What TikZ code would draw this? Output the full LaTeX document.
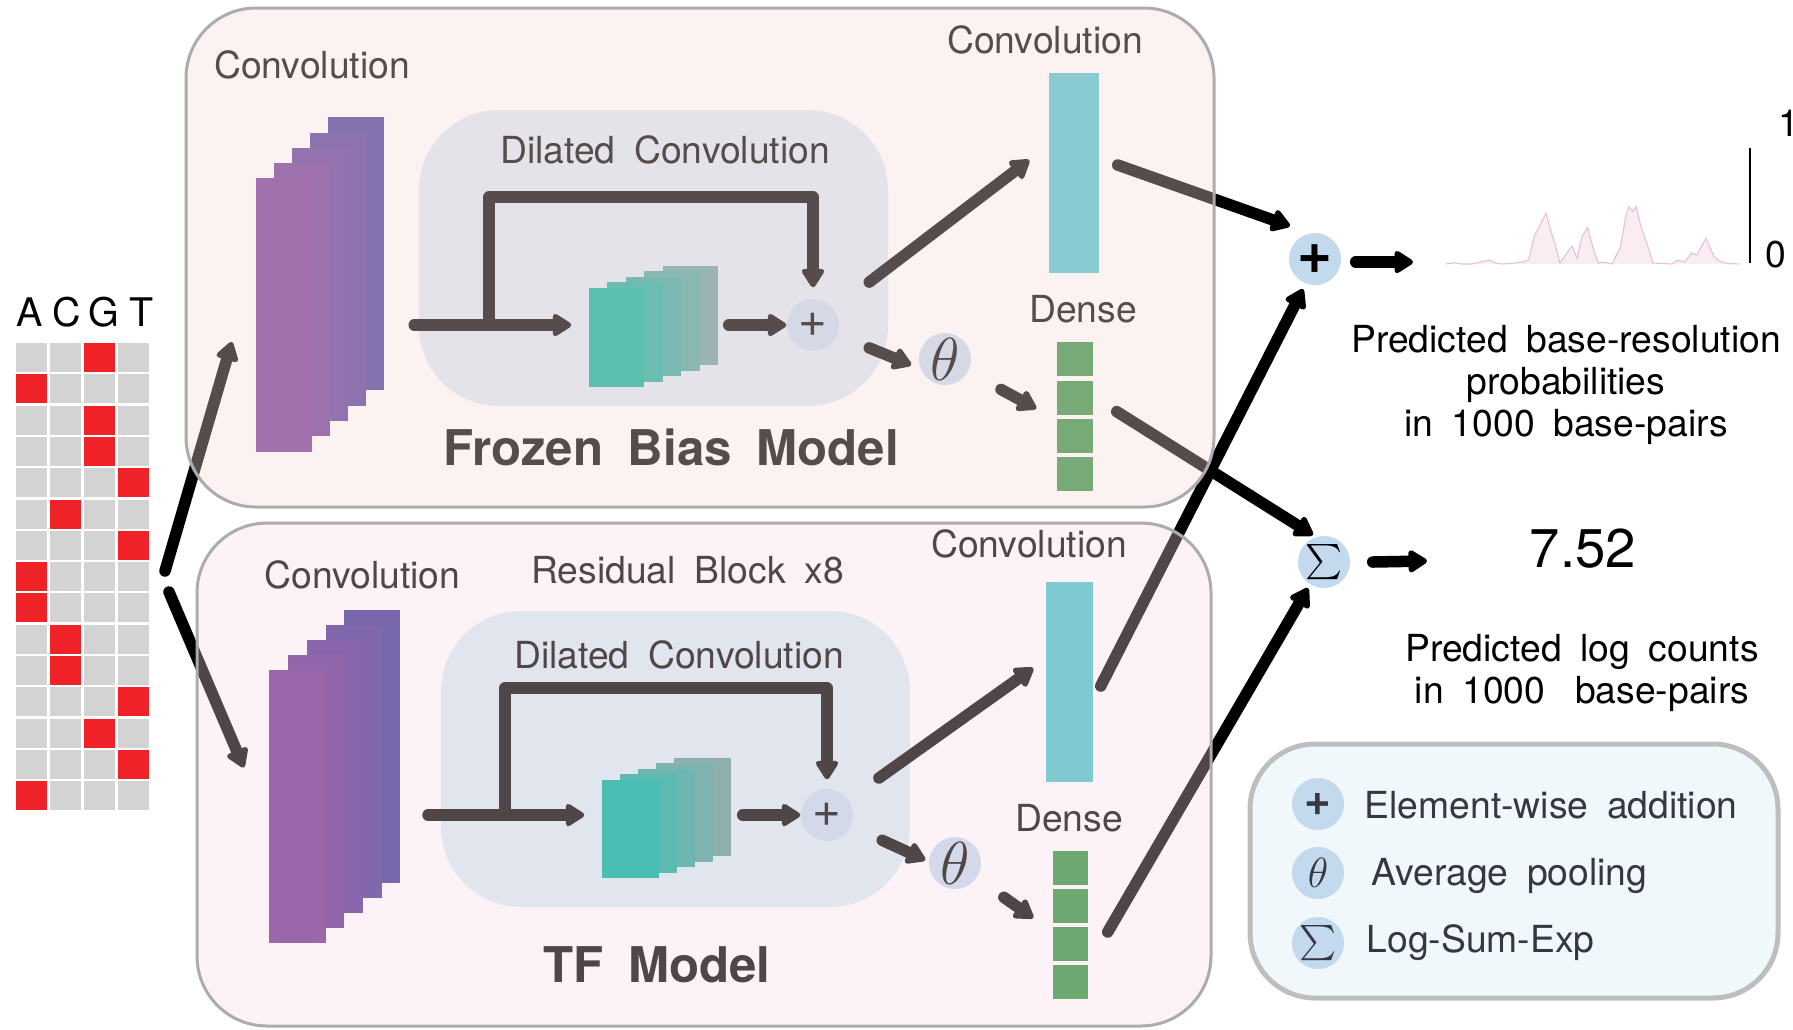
\documentclass[tikz,border=0pt]{standalone}
\usepackage[no-math]{fontspec}
\setmainfont{TeX Gyre Heros}[WordSpace=1.8]
\usetikzlibrary{arrows.meta,calc}
\pgfdeclarelayer{bg}
\pgfdeclarelayer{veil}
\pgfdeclarelayer{fg}
\pgfsetlayers{bg,main,veil,fg}

\definecolor{onehot}{RGB}{238,34,39}
\definecolor{cellgray}{RGB}{211,211,211}
\definecolor{veilA}{RGB}{246,218,215}
\definecolor{veilB}{RGB}{249,218,227}
\definecolor{innerA}{RGB}{218,233,244}
\definecolor{innerB}{RGB}{215,235,243}
\definecolor{panelline}{RGB}{172,172,172}
\definecolor{opfill}{RGB}{195,217,238}
\definecolor{purpA1}{RGB}{163,112,174}
\definecolor{purpA2}{RGB}{133,115,176}
\definecolor{purpB1}{RGB}{155,102,170}
\definecolor{purpB2}{RGB}{120,103,172}
\definecolor{tealA1}{RGB}{91,191,176}
\definecolor{tealA2}{RGB}{153,180,178}
\definecolor{tealB1}{RGB}{75,190,180}
\definecolor{tealB2}{RGB}{143,175,175}
\definecolor{cyanA}{RGB}{137,203,208}
\definecolor{cyanB}{RGB}{126,202,208}
\definecolor{greenA}{RGB}{120,170,120}
\definecolor{greenB}{RGB}{108,168,112}
\definecolor{legendline}{RGB}{190,190,190}
\definecolor{legendfill}{RGB}{240,248,252}
\definecolor{legendtext}{RGB}{55,55,65}
\definecolor{trackfill}{RGB}{249,236,243}
\definecolor{trackline}{RGB}{230,192,210}

\begin{document}
\begin{tikzpicture}[x=0.01cm,y=-0.01cm]
    \tikzstyle{lbl}=[inner sep=0pt, font=\fontsize{10.6}{12}\selectfont]
    \tikzstyle{title}=[inner sep=0pt, font=\fontsize{14}{16}\selectfont\bfseries]
    \tikzstyle{layer}=[rectangle, inner sep=0pt]
    \tikzstyle{op}=[circle, fill=opfill, inner sep=0pt, minimum size=0.52cm]
    \tikzstyle{link}=[line width=0.115cm, line cap=round, line join=round,
        -{Triangle[round, length=0.21cm, width=0.25cm]}]
\useasboundingbox (0,0) rectangle (1793,1029);

% one-hot sequence
\foreach \c/\b in {30/A,67/C,104/G,142/T}
    \node[lbl, anchor=base, font=\fontsize{11.2}{12}\selectfont] (nt\b) at (\c,326) {\b};
\foreach \r in {0,...,14}
    \foreach \c in {0,...,3}
        \fill[cellgray] (16+34*\c,343+31.3*\r) rectangle ++(31,29);
\foreach \b [count=\r from 0] in {2,0,2,2,3,1,3,0,0,1,1,3,2,3,0}
    \fill[onehot] (16+34*\b,343+31.3*\r) rectangle ++(31,29);
\coordinate (forkA) at (165,571);
\coordinate (forkB) at (169,592);

\begin{pgfonlayer}{bg}
\fill[innerA, rounded corners=0.8cm] (419,110) rectangle (888,406);
\fill[innerB, rounded corners=0.8cm] (441,611) rectangle (910,907);
\end{pgfonlayer}

\begin{pgfonlayer}{veil}
\draw[panelline, line width=0.03cm, fill=veilA, fill opacity=0.35,
    rounded corners=0.7cm] (186,8) rectangle (1214,507);
\draw[panelline, line width=0.03cm, fill=veilB, fill opacity=0.32,
    rounded corners=0.7cm] (197,523) rectangle (1211,1026);
\end{pgfonlayer}

\begin{pgfonlayer}{fg}
\foreach \i in {4,3,2,1,0} {
    \pgfmathtruncatemacro\mix{100-25*\i}
    \node[layer, fill=purpA1!\mix!purpA2, minimum width=0.55cm,
    minimum height=2.73cm] (convA\i) at (284+18*\i,315-15.3*\i) {};
    \node[layer, fill=tealA1!\mix!tealA2, minimum width=0.55cm,
    minimum height=0.99cm] (dconvA\i) at (616.5+18.5*\i,337.5-5.5*\i) {};
    \node[layer, fill=purpB1!\mix!purpB2, minimum width=0.56cm,
    minimum height=2.73cm] (convB\i) at (297.5+18.7*\i,806.5-15*\i) {};
    \node[layer, fill=tealB1!\mix!tealB2, minimum width=0.57cm,
    minimum height=0.98cm] (dconvB\i) at (630.5+18*\i,829-5.5*\i) {};
}
\node[layer, fill=cyanA, minimum width=0.5cm, minimum height=2cm] (barA) at (1074,173) {};
\node[layer, fill=cyanB, minimum width=0.47cm, minimum height=2cm] (barB) at (1069.5,682) {};
\foreach \k in {1,...,4} {
    \node[layer, fill=greenA, minimum width=0.36cm,
    minimum height=0.34cm] (denseA\k) at (1075,321+38.3*\k) {};
    \node[layer, fill=greenB, minimum width=0.35cm,
    minimum height=0.34cm] (denseB\k) at (1070.5,830+38*\k) {};
}
\end{pgfonlayer}

% operations
\node[op, font=\fontsize{14}{14}\selectfont] (plusA) at (813,325) {+};
\node[op, font=\fontsize{18}{18}\selectfont] (poolA) at (945,359) {$\theta$};
\node[op, font=\fontsize{14}{14}\selectfont] (plusB) at (827,815) {+};
\node[op, font=\fontsize{18}{18}\selectfont] (poolB) at (955,863) {$\theta$};
\node[op, font=\fontsize{17}{17}\selectfont\bfseries] (sumP) at (1315,259) {+};
\node[op, font=\fontsize{11}{11}\selectfont] (lse) at (1324,562) {$\sum$};

% labels
\node[lbl] (convAlbl) at (312,65) {Convolution};
\node[lbl] (dilAlbl) at (665,150) {Dilated Convolution};
\node[lbl] (outAlbl) at (1045,40) {Convolution};
\node[lbl] (denseAlbl) at (1083,309) {Dense};
\node[title] (biasname) at (671,447) {Frozen Bias Model};
\node[lbl] (convBlbl) at (362.5,575) {Convolution};
\node[lbl] (resBlbl) at (687.6,570) {Residual Block x8};
\node[lbl] (dilBlbl) at (679,655) {Dilated Convolution};
\node[lbl] (outBlbl) at (1029,544) {Convolution};
\node[lbl] (denseBlbl) at (1069,818) {Dense};
\node[title] (tfname) at (657,965) {TF Model};

% profile track
\fill[trackfill] plot coordinates {(1445.6,264) (1454,262.7) (1462,264) (1471.6,264)
    (1480,262) (1489,260) (1496,263) (1502.8,264) (1515,263) (1523.5,261.7) (1528.7,260)
    (1534,236.7) (1540,225) (1546,213.3) (1550,228) (1554.7,243) (1560,263) (1566.8,253)
    (1572,246) (1577,258) (1582,236.7) (1587.6,227.3) (1592.8,246.7) (1598,263) (1603,262)
    (1612,264) (1620.5,246.7) (1625.7,216.7) (1629,206.7) (1632.6,211.7) (1636,206.7)
    (1641,226.7) (1648,246.7) (1653,263) (1672,264) (1677.6,260) (1684.6,262) (1691.5,253)
    (1696.7,255) (1706,238.3) (1714,256.7) (1721,261.7) (1727.8,263.5) (1740,264)} -- cycle;
\draw[trackline, line width=0.3pt] plot coordinates {(1445.6,264) (1454,262.7) (1462,264) (1471.6,264)
    (1480,262) (1489,260) (1496,263) (1502.8,264) (1515,263) (1523.5,261.7) (1528.7,260)
    (1534,236.7) (1540,225) (1546,213.3) (1550,228) (1554.7,243) (1560,263) (1566.8,253)
    (1572,246) (1577,258) (1582,236.7) (1587.6,227.3) (1592.8,246.7) (1598,263) (1603,262)
    (1612,264) (1620.5,246.7) (1625.7,216.7) (1629,206.7) (1632.6,211.7) (1636,206.7)
    (1641,226.7) (1648,246.7) (1653,263) (1672,264) (1677.6,260) (1684.6,262) (1691.5,253)
    (1696.7,255) (1706,238.3) (1714,256.7) (1721,261.7) (1727.8,263.5) (1740,264)};
\draw[line width=0.015cm] (1750,148) -- (1750,263);
\node[lbl] (ytop) at (1789,123) {1};
\node[lbl] (ybot) at (1776,255) {0};
\coordinate (profile) at (1413,262);

\node[lbl, align=center, font=\fontsize{10.6}{11.95}\selectfont] (proftxt) at (1566,385)
    {Predicted base-resolution\\probabilities\\in 1000 base-pairs};
\node[font=\fontsize{15.5}{16}\selectfont, inner sep=0pt] (countval) at (1583,548.5) {7.52};
\coordinate (countin) at (1427,561);
\node[lbl, align=center, font=\fontsize{10.6}{11.95}\selectfont] (counttxt) at (1582,673)
    {Predicted log counts\\in 1000\hskip0.8em base-pairs};

% connectors
\draw[link] (forkA) -- ($(convA0.west)+(-24,27)$);
\draw[link] (forkB) -- ($(convB0.west)+(-25,-39)$);

\coordinate (tapA) at (489,325);
\draw[link] ($(convA4.east |- plusA)+(30,0)$) -- ($(dconvA0.west |- plusA)+(-17,0)$);
\draw[link] (tapA) -- ++(0,-128) -| ($(plusA.north)+(0,-11)$);
\draw[link] ($(dconvA4.east |- plusA)+(10,0)$) -- (plusA.west);
\draw[link, shorten <=0.44cm] (plusA) -- ($(barA.west)+(-19,-13)$);
\draw[link, shorten <=0.34cm] (plusA) -- ($(poolA.west)+(-7,6)$);
\draw[link, shorten <=0.37cm] (poolA) -- ($(denseA2.west)+(-20,11)$);

\coordinate (tapB) at (505,815);
\draw[link] ($(convB4.east |- plusB)+(27,0)$) -- ($(dconvB0.west |- plusB)+(-17,0)$);
\draw[link] (tapB) -- ++(0,-127) -| ($(plusB.north)+(0,-9)$);
\draw[link] ($(dconvB4.east |- plusB)+(11,0)$) -- (plusB.west);
\draw[link, shorten <=0.37cm] (plusB) -- ($(barB.west)+(-12,-14)$);
\draw[link, shorten <=0.34cm] (plusB) -- ($(poolB.west)+(-3,-3)$);
\draw[link, shorten <=0.33cm] (poolB) -- ($(denseB2.west)+(-19,12)$);

\draw[link] ($(barA.east)+(18,-8)$) -- ($(sumP)+(-25,-33)$);
\draw[link] ($(denseA2.east)+(23,14)$) -- ($(lse)+(-11,-27)$);
\draw[link] ($(barB.east)+(7,4)$) -- ($(sumP)+(-12,30)$);
\draw[link] ($(denseB3.east)+(19,-12)$) -- ($(lse)+(-16,26)$);
\draw[link] ($(sumP.east)+(14,3)$) -- (profile);
\draw[link] ($(lse.east)+(22,0)$) -- (countin);

% legend
\draw[legendline, line width=0.05cm, fill=legendfill, rounded corners=0.65cm]
    (1250,744) rectangle (1778,998);
\node[op, text=legendtext, font=\fontsize{13}{13}\selectfont\bfseries] (keyadd) at (1318,804) {+};
\node[op, text=legendtext, font=\fontsize{12}{12}\selectfont] (keypool) at (1318,873) {$\theta$};
\node[op, text=legendtext, font=\fontsize{11}{11}\selectfont] (keylse) at (1318,943) {$\sum$};
\node[lbl, anchor=base west, text=legendtext] (keyaddtxt) at (1364,818) {Element-wise addition};
\node[lbl, anchor=base west, text=legendtext] (keypooltxt) at (1371,885) {Average pooling};
\node[lbl, anchor=base west, text=legendtext] (keylsetxt) at (1366,952) {Log-Sum-Exp};

\end{tikzpicture}
\end{document}
